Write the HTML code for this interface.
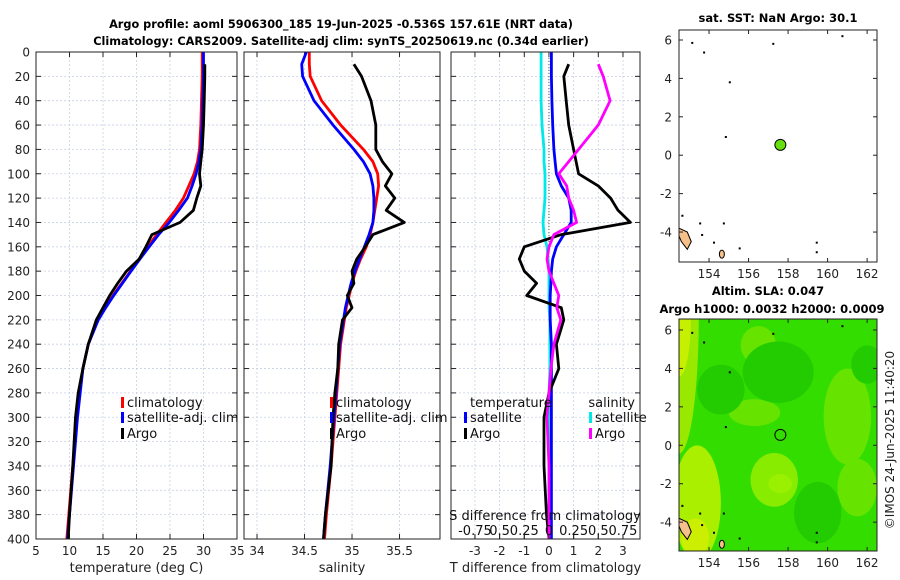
<!DOCTYPE html>
<html><head><meta charset="utf-8"><style>
body{margin:0;background:#fff;}
svg{display:block;font-family:"DejaVu Sans","Liberation Sans",sans-serif;}
</style></head><body>
<svg id="fig" width="900" height="580" viewBox="0 0 900 580" xmlns="http://www.w3.org/2000/svg">
<defs><clipPath id="slaclip"><rect x="679" y="319" width="198" height="232"/></clipPath></defs>
<rect width="900" height="580" fill="#fff"/>
<text x="341" y="28" text-anchor="middle" font-size="11.3" font-weight="bold">Argo profile: aoml 5906300_185 19-Jun-2025 -0.536S 157.61E (NRT data)</text>
<text x="341" y="45" text-anchor="middle" font-size="11.3" font-weight="bold">Climatology: CARS2009. Satellite-adj clim: synTS_20250619.nc (0.34d earlier)</text>
<g id="g"></g>
</svg>
<script>
const depthLevels=[0,10,20,40,60,80,90,100,110,120,130,140,150,160,170,180,190,200,210,220,240,260,280,300,340,380,400];
const tempClim=[29.8,29.8,29.8,29.7,29.6,29.4,29.1,28.6,27.8,27.0,25.8,24.4,23.0,21.7,20.4,19.1,17.8,16.5,15.3,14.2,12.8,12.0,11.5,11.1,10.5,9.9,9.6];
const tempSat=[30.0,30.0,30.0,29.9,29.8,29.6,29.3,28.9,28.3,27.6,26.3,24.9,23.3,21.9,20.5,19.2,17.9,16.6,15.4,14.3,12.8,12.0,11.6,11.2,10.6,10.0,9.7];
const tempArgo=[null,30.2,30.2,30.1,30.0,29.8,29.6,29.4,29.6,29.0,28.5,26.5,22.3,21.4,20.4,18.5,17.2,16.0,15.0,14.0,12.8,12.0,11.3,10.9,10.5,10.0,9.8];
const salClim=[34.55,34.55,34.56,34.68,34.88,35.12,35.22,35.27,35.28,35.26,35.24,35.22,35.19,35.15,35.09,35.04,35.0,34.97,34.94,34.92,34.88,34.86,34.84,34.82,34.78,34.73,34.71];
const salSat=[34.52,34.47,34.48,34.6,34.8,35.02,35.12,35.19,35.22,35.23,35.23,35.22,35.18,35.13,35.08,35.03,34.99,34.96,34.93,34.91,34.87,34.85,34.83,34.81,34.77,34.72,34.7];
const salArgo=[null,35.02,35.1,35.2,35.25,35.25,35.32,35.42,35.35,35.45,35.36,35.55,35.22,35.14,35.05,35.0,35.02,34.95,35.0,34.9,34.86,34.85,34.82,34.8,34.78,34.72,34.7];
const dTSat=[0.1,0.1,0.1,0.12,0.15,0.2,0.25,0.3,0.5,0.8,0.9,0.9,0.6,0.3,0.15,0.1,0.08,0.05,0.05,0.05,0.1,0.1,0.1,0.1,0.1,0.1,0.1];
const dTArgo=[null,0.8,0.6,0.7,0.8,1.0,1.1,1.2,2.0,2.5,2.8,3.3,0.5,-1.0,-1.2,-1.0,-0.5,-0.9,0.5,0.6,0.3,0.4,0.0,-0.2,-0.2,-0.1,0.0];
const dSSat=[-0.08,-0.08,-0.08,-0.08,-0.07,-0.05,-0.05,-0.04,-0.04,-0.04,-0.05,-0.06,-0.05,-0.02,-0.01,0,0,0,0,0.01,0.01,0.01,0,0,0,0,0];
const dSArgo=[null,0.5,0.55,0.62,0.5,0.3,0.2,0.1,0.18,0.2,0.25,0.28,0.05,0.0,-0.02,0.0,0.05,0.1,0.08,0.12,0.05,0.02,0.0,-0.02,0.0,0.0,0.0];
const depthTicks=[0,20,40,60,80,100,120,140,160,180,200,220,240,260,280,300,320,340,360,380,400];
const tempTicks=[5,10,15,20,25,30,35];
const salTicks=[34,34.5,35,35.5];
const dTTicks=[-3,-2,-1,0,1,2,3];
const dSTickLabels=["-0.75","0.5","0.25","0","0.25","0.5","0.75"];
const dSTicks=[-0.75,-0.5,-0.25,0,0.25,0.5,0.75];
const lonTicks=[154,156,158,160,162];
const latTicks=[-4,-2,0,2,4,6];
const argoPos=[157.61,0.54];

const NS="http://www.w3.org/2000/svg";
const G=document.getElementById('g');
const FS=12;
function mk(t,a,p){const e=document.createElementNS(NS,t);for(const k in a)e.setAttribute(k,a[k]);(p||G).appendChild(e);return e;}
const Y0=52,Y1=539;
const yD=d=>Y0+(d/400)*(Y1-Y0);
function lin(d0,d1,r0,r1){return v=>r0+(v-d0)/(d1-d0)*(r1-r0);}
const xT=lin(5,35,36,237), xS=lin(33.863,35.926,244,440), xDT=lin(-3.97,3.69,451,640), xDS=v=>xDT(v*4);

function panel(name,x0,x1,xs,ticks,labels,lblTxt){
  const f=mk('rect',{x:x0,y:Y0,width:x1-x0,height:Y1-Y0,fill:'#fff',stroke:'none'});
  
  
  depthTicks.forEach(d=>{mk('line',{x1:x0,x2:x1,y1:yD(d),y2:yD(d),stroke:'#c8d0e6','stroke-width':0.8,'stroke-dasharray':'2,2'});
    mk('line',{x1:x0,x2:x0+5,y1:yD(d),y2:yD(d),stroke:'#222'});mk('line',{x1:x1-5,x2:x1,y1:yD(d),y2:yD(d),stroke:'#222'});});
  ticks.forEach((v,i)=>{const x=xs(v);mk('line',{x1:x,x2:x,y1:Y0,y2:Y1,stroke:'#c8d0e6','stroke-width':0.8,'stroke-dasharray':'2,2'});
    mk('line',{x1:x,x2:x,y1:Y1,y2:Y1-5,stroke:'#222'});mk('line',{x1:x,x2:x,y1:Y0,y2:Y0+5,stroke:'#222'});
    const t=mk('text',{x:x,y:555,'text-anchor':'middle','font-size':FS,fill:'#222'});t.textContent=labels[i];
    
    });
  const l=mk('text',{x:(x0+x1)/2,y:572,'text-anchor':'middle','font-size':13,fill:'#222'});l.textContent=lblTxt;
  
  
}
function frame(x0,x1){mk('rect',{x:x0,y:Y0,width:x1-x0,height:Y1-Y0,fill:'none',stroke:'#222','stroke-width':1});}
function series(name,vals,xs,col,w){
  let d='';let pen=false;
  vals.forEach((v,i)=>{if(v===null){pen=false;return;}d+=(pen?'L':'M')+xs(v).toFixed(1)+','+yD(depthLevels[i]).toFixed(1);pen=true;});
  const p=mk('path',{d:d,fill:'none',stroke:col,'stroke-width':w||2.8,'stroke-linejoin':'round'});
  
  
}
function legend(name,x,y,col,txt){
  mk('rect',{x:x,y:y-10,width:3,height:11,fill:col});
  const t=mk('text',{x:x+6,y:y,'font-size':13,fill:'#111'});t.textContent=txt;
  
  
}

panel('temperature-panel',36,237,xT,tempTicks,tempTicks.map(String),'temperature (deg C)');
depthTicks.forEach(d=>{const t=mk('text',{x:30,y:yD(d)+4.5,'text-anchor':'end','font-size':FS,fill:'#222'});t.textContent=d;
  
  });
series('temperature-climatology-line',tempClim,xT,'#ff0000');
series('temperature-satellite-line',tempSat,xT,'#0000ff');
series('temperature-argo-line',tempArgo,xT,'#000');
frame(36,237);
legend('legend-climatology-temp',121,407,'#ff0000','climatology');
legend('legend-satellite-temp',121,422,'#0000ff','satellite-adj. clim');
legend('legend-argo-temp',121,438,'#000','Argo');

panel('salinity-panel',244,440,xS,salTicks,["34","34.5","35","35.5"],'salinity');
series('salinity-climatology-line',salClim,xS,'#ff0000');
series('salinity-satellite-line',salSat,xS,'#0000ff');
series('salinity-argo-line',salArgo,xS,'#000');
frame(244,440);
legend('legend-climatology-sal',330,407,'#ff0000','climatology');
legend('legend-satellite-sal',330,422,'#0000ff','satellite-adj. clim');
legend('legend-argo-sal',330,438,'#000','Argo');

panel('difference-panel',451,640,xDT,dTTicks,dTTicks.map(String),'T difference from climatology');
mk('line',{x1:xDT(0),x2:xDT(0),y1:Y0,y2:Y1,stroke:'#555','stroke-width':1,'stroke-dasharray':'1,2'});
series('s-diff-satellite-line',dSSat,xDS,'#00e8e8');
series('t-diff-satellite-line',dTSat,xDT,'#0000ff');
series('t-diff-argo-line',dTArgo,xDT,'#000');
series('s-diff-argo-line',dSArgo,xDS,'#ff00ff');
frame(451,640);
{const t=mk('text',{x:470,y:407,'font-size':13,fill:'#111'});t.textContent='temperature';


const s=mk('text',{x:635,y:407,'font-size':13,fill:'#111','text-anchor':'end'});s.textContent='salinity';

}
legend('legend-t-satellite',464,422,'#0000ff','satellite');
legend('legend-t-argo',464,438,'#000','Argo');
legend('legend-s-satellite',589,422,'#00e8e8','satellite');
legend('legend-s-argo',589,438,'#ff00ff','Argo');
{const t=mk('text',{x:545,y:520,'text-anchor':'middle','font-size':13,fill:'#111'});t.textContent='S difference from climatology';


dSTicks.forEach((v,i)=>{const e=mk('text',{x:xDS(v),y:535,'text-anchor':'middle','font-size':13,fill:'#111'});e.textContent=dSTickLabels[i];


mk('line',{x1:xDS(v),x2:xDS(v),y1:Y1,y2:Y1-4,stroke:'#222'});});}

// maps
function map(name,x0,y0,x1,y1,lat0,lat1,bg){
  const lon=lin(152.48,162.5,x0,x1), lat=lin(lat1,lat0,y0,y1);
  const r=mk('rect',{x:x0,y:y0,width:x1-x0,height:y1-y0,fill:bg});
  
  
  return {lon,lat};
}
function mapAxes(name,x0,y0,x1,y1,m){
  lonTicks.forEach(v=>{const x=m.lon(v);mk('line',{x1:x,x2:x,y1:y1,y2:y1-4,stroke:'#222'});mk('line',{x1:x,x2:x,y1:y0,y2:y0+4,stroke:'#222'});
    const t=mk('text',{x:x,y:y1+16,'text-anchor':'middle','font-size':FS,fill:'#222'});t.textContent=v;
    
    });
  latTicks.forEach(v=>{const y=m.lat(v);mk('line',{x1:x0,x2:x0+4,y1:y,y2:y,stroke:'#222'});mk('line',{x1:x1-4,x2:x1,y1:y,y2:y,stroke:'#222'});
    const t=mk('text',{x:x0-7,y:y+4.5,'text-anchor':'end','font-size':FS,fill:'#222'});t.textContent=v;
    
    });
  mk('rect',{x:x0,y:y0,width:x1-x0,height:y1-y0,fill:'none',stroke:'#222'});
}
function land(m){
  mk('path',{d:`M${m.lon(152.48)},${m.lat(-3.8)} L${m.lon(152.9)},${m.lat(-4.0)} L${m.lon(153.1)},${m.lat(-4.5)} L${m.lon(152.9)},${m.lat(-4.9)} L${m.lon(152.6)},${m.lat(-4.5)} L${m.lon(152.48)},${m.lat(-4.2)}Z`,fill:'#f6c08a',stroke:'#000','stroke-width':1});
  mk('ellipse',{cx:m.lon(154.65),cy:m.lat(-5.15),rx:2.5,ry:4,fill:'#f6c08a',stroke:'#000','stroke-width':1});
  [[153.1,5.9],[153.7,5.4],[155.0,3.85],[154.8,1.0],[157.2,5.85],[160.7,6.25],[153.5,-3.5],[154.7,-3.5],[153.6,-4.1],[154.2,-4.5],[155.5,-4.8],[159.4,-4.5],[159.4,-5.0],[152.6,-3.1]].forEach(p=>mk('rect',{x:m.lon(p[0]),y:m.lat(p[1]),width:2,height:2,fill:'#000'}));
}
{const x0=679,y0=30,x1=877,y1=262;
 const m=map('sst-map',x0,y0,x1,y1,-5.56,6.52,'#fff');
 land(m);
 const c=mk('circle',{cx:m.lon(argoPos[0]),cy:m.lat(argoPos[1]),r:5.5,fill:'#66e010',stroke:'#000','stroke-width':1});
 
 
 mapAxes('sst-map',x0,y0,x1,y1,m);
 const t=mk('text',{x:778,y:22,'text-anchor':'middle','font-size':11.5,'font-weight':'bold'});t.textContent='sat. SST: NaN Argo: 30.1';
 
 }
{const x0=679,y0=319,x1=877,y1=551;
 const m=map('sla-map',x0,y0,x1,y1,-5.5,6.57,'#33dd00');
 const cg=mk('g',{'clip-path':'url(#slaclip)'});
 const blobs=[[152.48,6.57,1.0,7,'#99e800'],[152.48,6.57,0.6,3,'#c6f000'],[153.4,-3,1.2,3,'#aaee00'],[153.3,-4.8,0.7,1,'#ccee00'],[156.3,1.7,1.3,0.7,'#66e400'],[157.3,-1.8,1.2,1.4,'#88ec00'],[157.6,-2,0.6,0.5,'#99f000'],[156.5,5.2,0.9,1,'#66e400'],[161,1.5,1.2,2.5,'#66e400'],[161.5,-2.2,1,1.5,'#66e400'],[154.6,2.9,1.2,1.3,'#22cc00'],[157.5,3.8,1.8,1.6,'#22cc00'],[159.5,-3.5,1.2,1.6,'#22cc00'],[162,4.2,0.8,1,'#22cc00']];
 blobs.forEach(b=>mk('ellipse',{cx:m.lon(b[0]),cy:m.lat(b[1]),rx:b[2]*19.75,ry:b[3]*19.2,fill:b[4]},cg));
 land(m);
 const c=mk('circle',{cx:m.lon(argoPos[0]),cy:m.lat(argoPos[1]),r:5.5,fill:'none',stroke:'#000','stroke-width':1});
 
 
 mapAxes('sla-map',x0,y0,x1,y1,m);
 const t1=mk('text',{x:768,y:295,'text-anchor':'middle','font-size':11.5,'font-weight':'bold'});t1.textContent='Altim. SLA: 0.047';
 
 
 const t2=mk('text',{x:772,y:313,'text-anchor':'middle','font-size':11.5,'font-weight':'bold'});t2.textContent='Argo h1000: 0.0032 h2000: 0.0009';
 
 
 const c2=mk('text',{x:894,y:440,'text-anchor':'middle','font-size':12,fill:'#222',transform:'rotate(-90 894 440)'});c2.textContent='©IMOS 24-Jun-2025 11:40:20';
 
 }
</script>
</body></html>
